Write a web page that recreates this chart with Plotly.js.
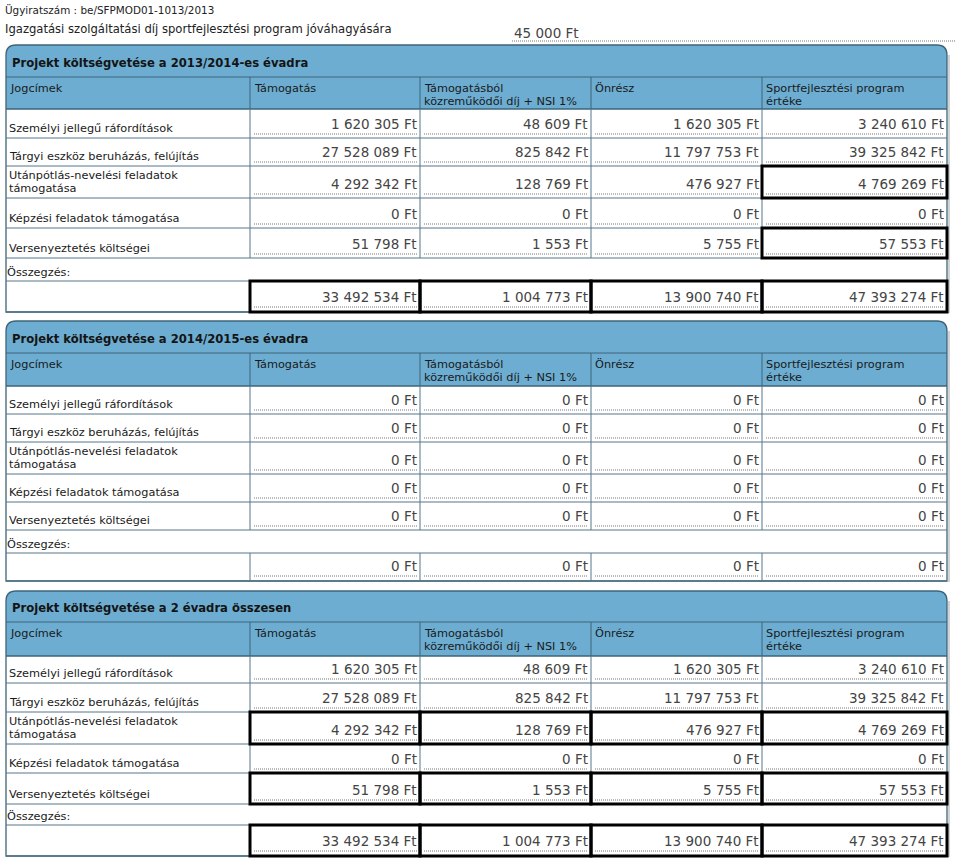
<!DOCTYPE html>
<html><head><meta charset="utf-8">
<script src="https://cdn.plot.ly/plotly-3.0.1.min.js"></script>
<style>html,body{margin:0;padding:0;background:#fff}#chart{width:960px;height:864px}</style>
</head><body><div id="chart"></div>
<script>
// ---------- DATA ----------
const docId = "Ügyiratszám : be/SFPMOD01-1013/2013";
const feeLabel = "Igazgatási szolgáltatási díj sportfejlesztési program jóváhagyására";
const feeValue = 45000;
const sectionTitles = [
  "Projekt költségvetése a 2013/2014-es évadra",
  "Projekt költségvetése a 2014/2015-es évadra",
  "Projekt költségvetése a 2 évadra összesen"
];
const columnHeaders = [["Jogcímek"], ["Támogatás"], ["Támogatásból", "közreműködői díj + NSI 1%"], ["Önrész"], ["Sportfejlesztési program", "értéke"]];
const categories = [["Személyi jellegű ráfordítások"], ["Tárgyi eszköz beruházás, felújítás"], ["Utánpótlás-nevelési feladatok", "támogatása"], ["Képzési feladatok támogatása"], ["Versenyeztetés költségei"]];
const summaryLabel = "Összegzés:";

// 2013/2014
const tamogatas1 = [1620305, 27528089, 4292342, 0, 51798];
const kozremukodoi1 = [48609, 825842, 128769, 0, 1553];
const onresz1 = [1620305, 11797753, 476927, 0, 5755];
const program1 = [3240610, 39325842, 4769269, 0, 57553];
const osszeg1 = [33492534, 1004773, 13900740, 47393274];
// 2014/2015
const tamogatas2 = [0, 0, 0, 0, 0];
const kozremukodoi2 = [0, 0, 0, 0, 0];
const onresz2 = [0, 0, 0, 0, 0];
const program2 = [0, 0, 0, 0, 0];
const osszeg2 = [0, 0, 0, 0];
// összesen
const tamogatas3 = [1620305, 27528089, 4292342, 0, 51798];
const kozremukodoi3 = [48609, 825842, 128769, 0, 1553];
const onresz3 = [1620305, 11797753, 476927, 0, 5755];
const program3 = [3240610, 39325842, 4769269, 0, 57553];
const osszeg3 = [33492534, 1004773, 13900740, 47393274];

// ---------- LAYOUT / STYLE ----------
const sections = [
  {cols: [tamogatas1, kozremukodoi1, onresz1, program1], sum: osszeg1},
  {cols: [tamogatas2, kozremukodoi2, onresz2, program2], sum: osszeg2},
  {cols: [tamogatas3, kozremukodoi3, onresz3, program3], sum: osszeg3}
];
const colX = [6, 250, 420, 591, 762, 947];
const geo = [
  {top: 45, titleY: 63, line: 77, head: 109, rows: [138, 166, 198, 228, 258], sumTop: 281, sumBot: 312},
  {top: 321, titleY: 339, line: 353, head: 386, rows: [414, 442, 474, 502, 530], sumTop: 553, sumBot: 581},
  {top: 591, titleY: 608, line: 622, head: 656, rows: [683, 712, 744, 773, 804], sumTop: 825, sumBot: 856}
];
// thick black boxes: [row, col] (row 5 = summary)
const thick = [
  [[2, 3], [4, 3], [5, 0], [5, 1], [5, 2], [5, 3]],
  [],
  [[2, 0], [2, 1], [2, 2], [2, 3], [4, 0], [4, 1], [4, 2], [4, 3], [5, 0], [5, 1], [5, 2], [5, 3]]
];

const FONT = "DejaVu Sans";
const BLUE = "#6cadd1";
const BORDER = "#3e6478";
const GRID = "#56778a";
const fmt = n => String(n).replace(/\B(?=(\d{3})+(?!\d))/g, " ") + " Ft";

const shapes = [];
const ann = [];
function line(x0, y0, x1, y1, color, width, dash) {
  shapes.push({type: "line", xref: "x", yref: "y", x0, y0, x1, y1, line: {color, width, dash: dash || "solid"}});
}
function text(x, y, t, size, color, anchor, bold) {
  ann.push({xref: "x", yref: "y", x, y, text: bold ? "<b>" + t + "</b>" : t, showarrow: false,
    xanchor: anchor || "left", yanchor: "middle", borderpad: 0, borderwidth: 0,
    font: {family: FONT, size, color}});
}

// top texts
text(5, 10, docId, 10.4, "#222");
text(5, 29, feeLabel, 11.6, "#222");
text(514, 33, fmt(feeValue), 13.5, "#444");
line(512, 41, 956, 41, "#777", 1, "1px,1px");

geo.forEach((g, s) => {
  const L = colX[0], R = colX[5], r = 10;
  shapes.push({type: "path", xref: "x", yref: "y", layer: "below",
    path: `M ${L},${g.head} L ${L},${g.top + r} Q ${L},${g.top} ${L + r},${g.top} L ${R - r},${g.top} Q ${R},${g.top} ${R},${g.top + r} L ${R},${g.head} Z`,
    fillcolor: BLUE, line: {width: 0}});
  line(R + 2, g.top + r, R + 2, g.sumBot + 1, "#d0d4d6", 2);
  shapes.push({type: "path", xref: "x", yref: "y",
    path: `M ${L},${g.sumBot} L ${L},${g.top + r} Q ${L},${g.top} ${L + r},${g.top} L ${R - r},${g.top} Q ${R},${g.top} ${R},${g.top + r} L ${R},${g.sumBot} Z`,
    line: {color: BORDER, width: 1.3}});
  text(12, g.titleY, sectionTitles[s], 11.6, "#141414", "left", true);
  line(L, g.line, R, g.line, BORDER, 1);
  line(L, g.head, R, g.head, BORDER, 1.3);
  for (let c = 1; c < 5; c++) line(colX[c], g.line, colX[c], g.head, BORDER, 1);
  columnHeaders.forEach((h, c) => {
    h.forEach((t, k) => text(colX[c] + 4, g.line + 11 + k * 13, t, 11.3, "#1a1a1a"));
  });
  let prev = g.head;
  const sec = sections[s];
  g.rows.forEach((b, i) => {
    line(L, b, R, b, GRID, 1);
    for (let c = 1; c < 5; c++) line(colX[c], prev, colX[c], b, GRID, 1);
    const lab = categories[i];
    if (lab.length === 1) text(9, b - 9.5, lab[0], 11.3, "#1a1a1a");
    else { text(9, b - 23, lab[0], 11.3, "#1a1a1a"); text(9, b - 9.5, lab[1], 11.3, "#1a1a1a"); }
    for (let c = 0; c < 4; c++) {
      text(colX[c + 2] - 3, b - 14.5, fmt(sec.cols[c][i]), 13.5, "#444", "right");
      line(colX[c + 1] + 4, b - 4, colX[c + 2] - 3, b - 4, "#777", 1, "1px,1px");
    }
    prev = b;
  });
  text(7, g.sumTop - 9, summaryLabel, 11.3, "#1a1a1a");
  line(L, g.sumTop, R, g.sumTop, GRID, 1);
  line(L, g.sumBot, R, g.sumBot, GRID, 1.3);
  for (let c = 1; c < 5; c++) line(colX[c], g.sumTop, colX[c], g.sumBot, GRID, 1);
  for (let c = 0; c < 4; c++) {
    text(colX[c + 2] - 3, g.sumBot - 15, fmt(sec.sum[c]), 13.5, "#444", "right");
    line(colX[c + 1] + 4, g.sumBot - 5, colX[c + 2] - 3, g.sumBot - 5, "#777", 1, "1px,1px");
  }
  thick[s].forEach(([ri, c]) => {
    const y0 = ri === 5 ? g.sumTop : (ri === 0 ? g.head : g.rows[ri - 1]);
    const y1 = ri === 5 ? g.sumBot : g.rows[ri];
    shapes.push({type: "rect", xref: "x", yref: "y", x0: colX[c + 1], x1: colX[c + 2], y0, y1,
      line: {color: "#000", width: 3}});
  });
});

const layout = {
  width: 960, height: 864,
  margin: {l: 0, r: 0, t: 0, b: 0},
  paper_bgcolor: "#fff", plot_bgcolor: "#fff",
  showlegend: false,
  xaxis: {range: [0, 960], visible: false, fixedrange: true},
  yaxis: {range: [864, 0], visible: false, fixedrange: true},
  shapes, annotations: ann
};
Plotly.newPlot("chart", [], layout, {staticPlot: true, displayModeBar: false});
</script>
</body></html>
